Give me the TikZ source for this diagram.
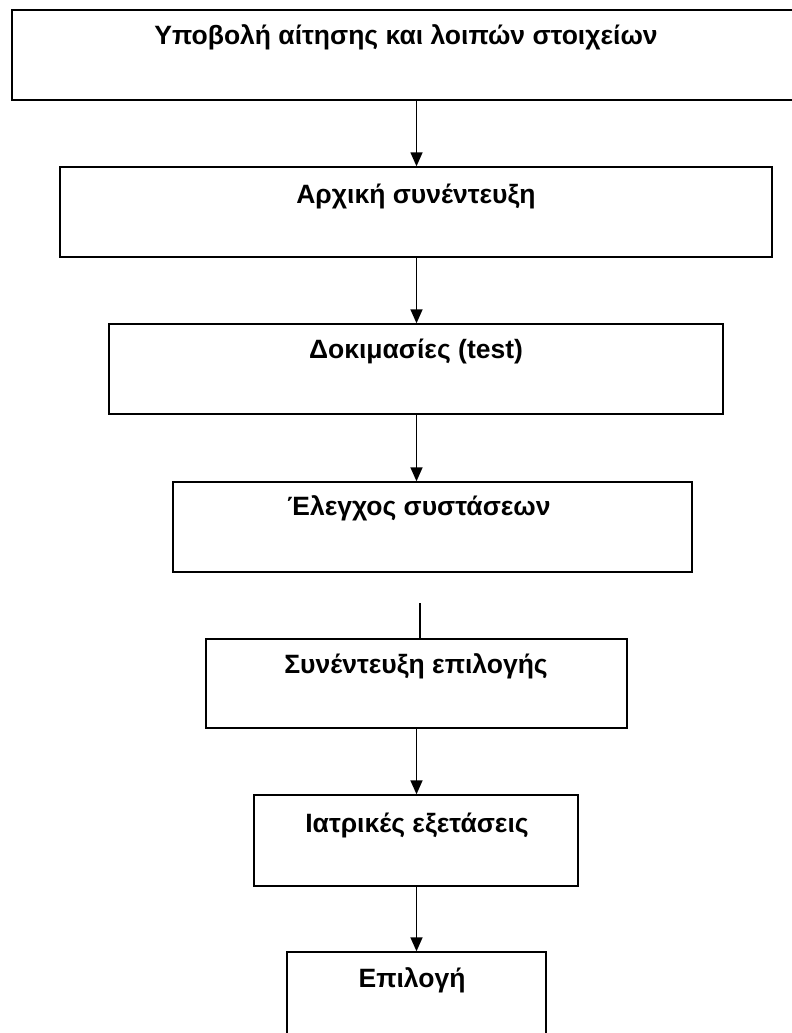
\documentclass[tikz,border=0pt]{standalone}
\usepackage{fontspec}
\setmainfont{Liberation Sans}
\usetikzlibrary{arrows.meta}
\begin{document}
\begin{tikzpicture}[x=1pt,y=-1pt,
  box/.style={draw=black, line width=1.4pt, inner sep=0pt},
  txt/.style={anchor=base, font=\fontsize{26.5}{30}\selectfont\bfseries, inner sep=0pt},
  conn/.style={draw=black, line width=1.5pt, -{Triangle[width=12pt,length=14pt]}},
  plain/.style={draw=black, line width=1.5pt}]
\clip (0,0) rectangle (792,1033);
\fill[white] (0,0) rectangle (792,1033);
% boxes
\node[box, minimum width=788pt, minimum height=90pt] (b1) at (406,55) {};
\node[box, minimum width=712pt, minimum height=90pt] (b2) at (416,212) {};
\node[box, minimum width=614pt, minimum height=90pt] (b3) at (416,369) {};
\node[box, minimum width=519pt, minimum height=90pt] (b4) at (432.5,527) {};
\node[box, minimum width=421pt, minimum height=89pt] (b5) at (416.5,683.5) {};
\node[box, minimum width=324pt, minimum height=91pt] (b6) at (416,840.5) {};
\node[box, minimum width=259pt, minimum height=93pt] (b7) at (416.5,998.5) {};
% texts
\node[txt] (t1) at (406,45) {Υποβολή αίτησης και λοιπών στοιχείων};
\node[txt] (t2) at (416,203) {Αρχική συνέντευξη};
\node[txt] (t3) at (416,358) {Δοκιμασίες (test)};
\node[txt] (t4) at (419,515) {Έλεγχος συστάσεων};
\node[txt] (t5) at (416,673) {Συνέντευξη επιλογής};
\node[txt] (t6) at (417,832) {Ιατρικές εξετάσεις};
\node[txt] (t7) at (412,987) {Επιλογή};
% connectors
\coordinate (sp) at (416.5,0);
\coordinate (g) at (420,603);
\draw[conn] (b1.south -| sp) -- (b2.north -| sp);
\draw[conn] (b2.south -| sp) -- (b3.north -| sp);
\draw[conn] (b3.south -| sp) -- (b4.north -| sp);
\draw[plain] (g) -- (b5.north -| g);
\draw[conn] (b5.south -| sp) -- (b6.north -| sp);
\draw[conn] (b6.south -| sp) -- (b7.north -| sp);
\end{tikzpicture}
\end{document}
